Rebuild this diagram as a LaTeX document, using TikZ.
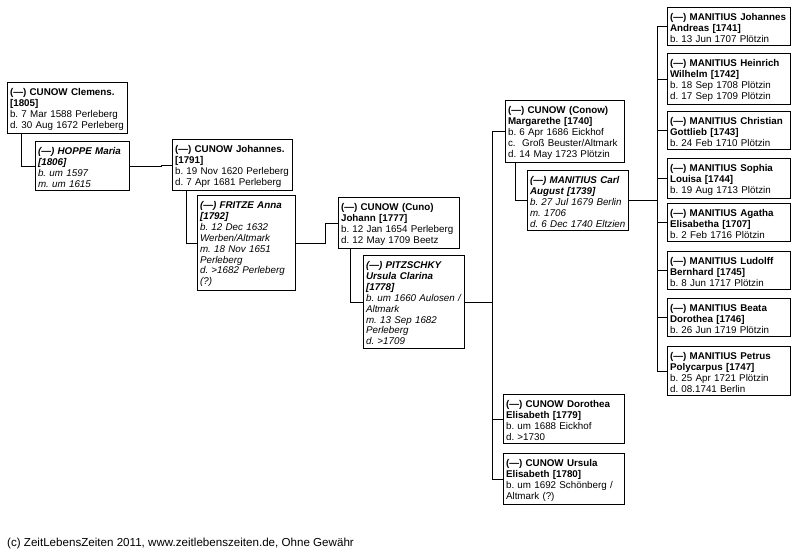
\documentclass[tikz,border=0pt]{standalone}
\usepackage{fontspec}
\setmainfont{Liberation Sans}
\usepackage{tikz}
\usetikzlibrary{calc}
\frenchspacing

\tikzset{
  person/.style={draw, line width=1.1pt, anchor=north west, align=left,
    inner xsep=2.5pt, inner ysep=3.5pt, text height=9.5pt,
    font=\fontsize{9.8}{10.9}\selectfont},
  lady/.style={person, font=\fontsize{9.8}{10.9}\selectfont\itshape},
  link/.style={line width=0.9pt}
}

\begin{document}
\begin{tikzpicture}[x=1pt, y=-1pt]
  \useasboundingbox (0,0) rectangle (798,553);
  % ancestors
  \node[person, text width=115pt] (clemens) at (7,82) {{\bfseries (—) CUNOW Clemens.\\{}[1805]}\\ b. 7 Mar 1588 Perleberg\\ d. 30 Aug 1672 Perleberg};
  \node[lady, text width=89pt] (hoppe) at (35,141) {{\bfseries (—) HOPPE Maria\\{}[1806]}\\ b. um 1597\\ m. um 1615};
  \node[person, text width=115pt] (johannes) at (172,139) {{\bfseries (—) CUNOW Johannes.\\{}[1791]}\\ b. 19 Nov 1620 Perleberg\\ d. 7 Apr 1681 Perleberg};
  \node[lady, text width=93pt] (fritze) at (197,195) {{\bfseries (—) FRITZE Anna\\{}[1792]}\\ b. 12 Dec 1632\\ Werben/Altmark\\ m. 18 Nov 1651\\ Perleberg\\ d. >1682 Perleberg\\ (?)};
  \node[person, text width=116pt] (johann) at (338,197) {{\bfseries (—) CUNOW (Cuno)\\ Johann [1777]}\\ b. 12 Jan 1654 Perleberg\\ d. 12 May 1709 Beetz};
  \node[lady, text width=96pt] (pitzschky) at (363,255) {{\bfseries (—) PITZSCHKY\\ Ursula Clarina\\{}[1778]}\\ b. um 1660 Aulosen /\\ Altmark\\ m. 13 Sep 1682\\ Perleberg\\ d. >1709};

  % children of Johann
  \node[person, text width=114pt] (margarethe) at (505,100) {{\bfseries (—) CUNOW (Conow)\\ Margarethe [1740]}\\ b. 6 Apr 1686 Eickhof\\ c.\ \ Groß Beuster/Altmark\\ d. 14 May 1723 Plötzin};
  \node[lady, text width=96pt] (carl) at (527,170) {{\bfseries (—) MANITIUS Carl\\ August [1739]}\\ b. 27 Jul 1679 Berlin\\ m. 1706\\ d. 6 Dec 1740 Eltzien};
  \node[person, text width=116pt] (dorothea) at (503,394) {{\bfseries (—) CUNOW Dorothea\\ Elisabeth [1779]}\\ b. um 1688 Eickhof\\ d. >1730};
  \node[person, text width=116pt] (ursula) at (503,453) {{\bfseries (—) CUNOW Ursula\\ Elisabeth [1780]}\\ b. um 1692 Schönberg /\\ Altmark (?)};

  % children of Margarethe and Carl
  \node[person, text width=118pt] (m1) at (667,7) {{\bfseries (—) MANITIUS Johannes\\ Andreas [1741]}\\ b. 13 Jun 1707 Plötzin};
  \node[person, text width=118pt] (m2) at (667,53) {{\bfseries (—) MANITIUS Heinrich\\ Wilhelm [1742]}\\ b. 18 Sep 1708 Plötzin\\ d. 17 Sep 1709 Plötzin};
  \node[person, text width=118pt] (m3) at (667,111) {{\bfseries (—) MANITIUS Christian\\ Gottlieb [1743]}\\ b. 24 Feb 1710 Plötzin};
  \node[person, text width=118pt] (m4) at (667,158) {{\bfseries (—) MANITIUS Sophia\\ Louisa [1744]}\\ b. 19 Aug 1713 Plötzin};
  \node[person, text width=118pt] (m5) at (667,203) {{\bfseries (—) MANITIUS Agatha\\ Elisabetha [1707]}\\ b. 2 Feb 1716 Plötzin};
  \node[person, text width=118pt] (m6) at (667,251) {{\bfseries (—) MANITIUS Ludolff\\ Bernhard [1745]}\\ b. 8 Jun 1717 Plötzin};
  \node[person, text width=118pt] (m7) at (667,298) {{\bfseries (—) MANITIUS Beata\\ Dorothea [1746]}\\ b. 26 Jun 1719 Plötzin};
  \node[person, text width=118pt] (m8) at (667,346) {{\bfseries (—) MANITIUS Petrus\\ Polycarpus [1747]}\\ b. 25 Apr 1721 Plötzin\\ d. 08.1741 Berlin};

  % connectors
  \draw[link] ([xshift=14pt]clemens.south west) |- (hoppe.west);
  \draw[link] (hoppe.east) -- ++(31,0) |- (johannes.west);
  \draw[link] ([xshift=14pt]johannes.south west) |- (fritze.west);
  \draw[link] (fritze.east) -- ++(29,0) |- (johann.west);
  \draw[link] ([xshift=12pt]johann.south west) |- (pitzschky.west);
  \draw[link] (pitzschky.east) -- ++(27,0) coordinate (fam);
  \draw[link] (margarethe.west) -| (fam) |- (ursula.west);
  \draw[link] (dorothea.west) -- (dorothea.west -| fam);
  \draw[link] ([xshift=10pt]margarethe.south west) |- (carl.west);
  \draw[link] (carl.east) -- ++(28,0) coordinate (kids);
  \draw[link] (m1.west) -| (kids) |- (m8.west);
  \foreach \k in {2,...,7}
    \draw[link] (m\k.west) -- (m\k.west -| kids);

  \node[anchor=base west, inner sep=0pt, font=\fontsize{11.6}{13}\selectfont] (credit) at (7,546) {(c) ZeitLebensZeiten 2011, www.zeitlebenszeiten.de, Ohne Gewähr};
\end{tikzpicture}
\end{document}
